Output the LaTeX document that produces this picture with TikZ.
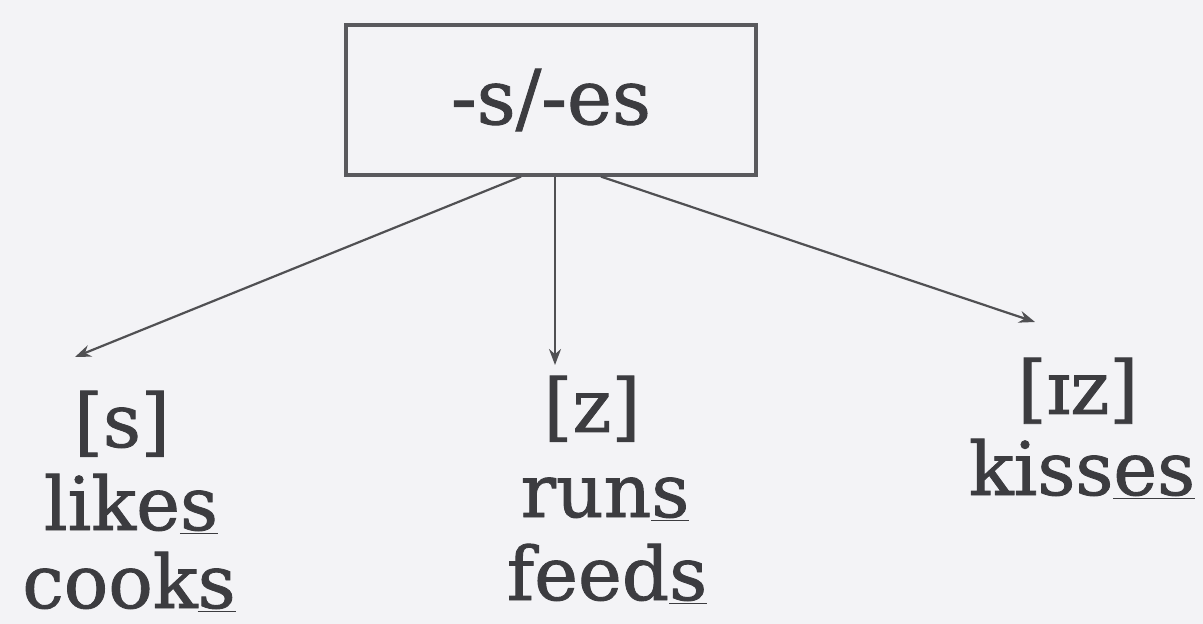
\documentclass[tikz,border=0pt]{standalone}
\usepackage{fontspec}
\setmainfont{DejaVu Serif}
\newfontfamily\dfont{DejaVu Serif}[FakeBold=1.2]
\usetikzlibrary{arrows.meta}
\definecolor{bg}{HTML}{F3F3F6}
\definecolor{ink}{HTML}{3C3C40}
\newcommand{\ulx}[1]{\underline{#1}}
\begin{document}
\begin{tikzpicture}[x=0.5pt,y=-0.5pt,
  lbl/.style={anchor=base,text=ink,font=\dfont\fontsize{37}{40}\selectfont,inner sep=0pt},
  boxst/.style={draw=ink!85,line width=1.6pt,minimum width=205pt,minimum height=75pt,inner sep=0pt,text=ink,font=\dfont\fontsize{38}{40}\selectfont},
  arr/.style={draw=ink!90,line width=1.1pt,-{Stealth[length=8pt,width=6pt]}}]
\fill[bg] (0,0) rectangle (1203,624);
\useasboundingbox (0,0) rectangle (1203,624);
\node[boxst] (box) at (551,100) {-s/-es};
\node[lbl] (s) at (122,447) {[s]};
\node[lbl] (likes) at (131,530) {like\ulx{s}};
\node[lbl] (cooks) at (129,608) {cook\ulx{s}};
\node[lbl] (z) at (592,432) {[z]};
\node[lbl] (runs) at (605,517) {run\ulx{s}};
\node[lbl] (feeds) at (607,600) {feed\ulx{s}};
\node[lbl] (iz) at (1078,414) {[ɪz]};
\node[lbl] (kisses) at (1082,495) {kiss\ulx{es}};
\coordinate (tl) at (75,357);
\coordinate (tm) at (555,365);
\coordinate (tr) at (1035,322);
\draw[arr] ([xshift=-15pt]box.south) -- (tl);
\draw[arr] ([xshift=2pt]box.south) -- (tm);
\draw[arr] ([xshift=25pt]box.south) -- (tr);
\end{tikzpicture}
\end{document}
